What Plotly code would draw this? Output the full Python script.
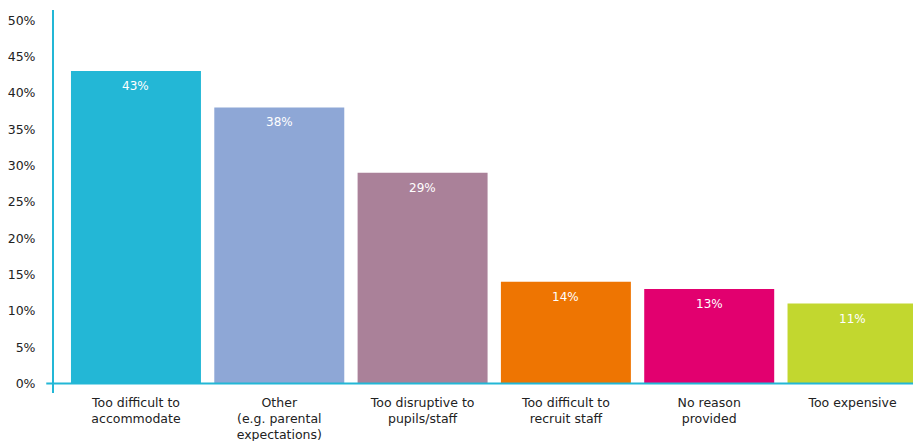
import plotly.graph_objects as go

categories = [
    "Too difficult to<br>accommodate",
    "Other<br>(e.g. parental<br>expectations)",
    "Too disruptive to<br>pupils/staff",
    "Too difficult to<br>recruit staff",
    "No reason<br>provided",
    "Too expensive",
]
values = [43, 38, 29, 14, 13, 11]
bar_colors = ["#23B7D6", "#8EA7D6", "#AA8199", "#EE7502", "#E2006F", "#C2D72F"]
y_ticks = [0, 5, 10, 15, 20, 25, 30, 35, 40, 45, 50]
y_tick_text = [f"{v}%" for v in y_ticks]

axis_color = "#23B7D6"
font_family = "'DejaVu Sans', sans-serif"

x_pos = list(range(len(categories)))

fig = go.Figure(
    go.Bar(
        x=x_pos,
        y=values,
        marker=dict(color=bar_colors, line=dict(width=0)),
        width=0.907,
        hoverinfo="skip",
    )
)

# value labels just inside the top of each bar
annotations = [
    dict(
        x=x,
        y=v,
        xref="x",
        yref="y",
        text=f"{v}%",
        showarrow=False,
        yanchor="middle",
        yshift=-15,
        font=dict(color="white", size=12, family=font_family),
    )
    for x, v in zip(x_pos, values)
]

fig.update_layout(
    width=913,
    height=441,
    margin=dict(l=54, r=0, t=10, b=48),
    plot_bgcolor="white",
    paper_bgcolor="white",
    showlegend=False,
    font=dict(family=font_family, color="#222222", size=13),
    annotations=annotations,
    xaxis=dict(
        range=[-0.572, 5.422],
        tickmode="array",
        tickvals=x_pos,
        ticktext=categories,
        showgrid=False,
        showline=False,
        zeroline=False,
        ticks="",
        automargin=False,
        ticklabelstandoff=0,
        tickfont=dict(size=12.5, color="#222222"),
    ),
    yaxis=dict(
        range=[-1.3, 51.4],
        tickmode="array",
        tickvals=y_ticks,
        ticktext=y_tick_text,
        showgrid=False,
        zeroline=False,
        showline=True,
        linecolor=axis_color,
        linewidth=2,
        ticks="",
        automargin=False,
        ticklabelstandoff=14,
        tickfont=dict(size=12.5, color="#222222"),
    ),
    shapes=[
        dict(
            type="line",
            xref="paper",
            yref="y",
            x0=-0.009,
            x1=1,
            y0=0,
            y1=0,
            line=dict(color=axis_color, width=2),
            layer="above",
        )
    ],
)

fig.write_html("out.html")
